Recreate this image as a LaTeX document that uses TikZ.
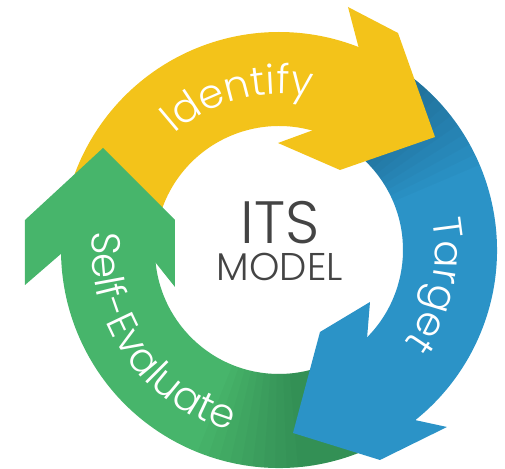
\documentclass[tikz,border=0pt]{standalone}
\usepackage{fontspec}
\IfFontExistsTF{Poppins Light}{\setmainfont{Poppins Light}}{\setmainfont{Poppins}}
\usetikzlibrary{decorations.text}
\pgfdeclarelayer{background}
\pgfdeclarelayer{foreground}
\pgfsetlayers{background,main,foreground}
\definecolor{idcol}{HTML}{F3C31A}
\definecolor{tgcol}{HTML}{2B93C7}
\definecolor{secol}{HTML}{47B56B}
\definecolor{itscol}{HTML}{444444}

\begin{document}
\begin{tikzpicture}[x=0.02cm,y=0.02cm,
  ringtext/.style={decorate,decoration={text along path,text align=center,
    text color=white,text={|\fontsize{23}{23}\selectfont|#1}}}]
\useasboundingbox (-279,-219) rectangle (226,250);
\begin{pgfonlayer}{background}
\fill[idcol] (179:218) arc[start angle=179,end angle=66,radius=218] -- (66:124) arc[start angle=66,end angle=179,radius=124] -- cycle;
\fill[tgcol] (62:218) arc[start angle=62,end angle=-54,radius=218] -- (-54:124) arc[start angle=-54,end angle=62,radius=124] -- cycle;
\fill[secol] (-65:218) arc[start angle=-65,end angle=-182,radius=218] -- (-182:124) arc[start angle=-182,end angle=-65,radius=124] -- cycle;
\foreach \a in {0,...,9}{
  \fill[black,opacity=0.025] (62:218) arc[start angle=62,end angle=50-3*\a,radius=218] -- (50-3*\a:124) arc[start angle=50-3*\a,end angle=62,radius=124] -- cycle;
  \fill[black,opacity=0.02] (-65:218) arc[start angle=-65,end angle=-85-3*\a,radius=218] -- (-85-3*\a:124) arc[start angle=-85-3*\a,end angle=-65,radius=124] -- cycle;
}
\end{pgfonlayer}
\fill[idcol] (68.6:218) -- (69,243) -- (119,217) -- (156,113) -- (61,80) -- (-1,107) -- (74.5:124) -- cycle;
\fill[tgcol] (-51.3:218) -- (168,-177) -- (101,-210) -- (14,-183) -- (41,-82) -- (91,-52) -- (-44.7:124) -- cycle;
\fill[secol] (181:218) -- (-254,-35) -- (-254,30) -- (-176,102) -- (-104,30) -- (-104,-37) -- (185.9:124) -- cycle;
\begin{pgfonlayer}{foreground}
\path[ringtext=Identify] (150:156) arc[start angle=150,end angle=60,radius=156];
\path[ringtext=Target] (35:156) arc[start angle=35,end angle=-60,radius=156];
\path[ringtext=Self-Evaluate] (157:187) arc[start angle=157,end angle=272,radius=187];
\node[itscol,font=\fontsize{34}{34}\selectfont,anchor=base] (its) at (1,6) {ITS};
\node[itscol,font=\fontsize{22}{22}\selectfont,anchor=base] (model) at (1,-31) {MODEL};
\end{pgfonlayer}
\end{tikzpicture}
\end{document}
